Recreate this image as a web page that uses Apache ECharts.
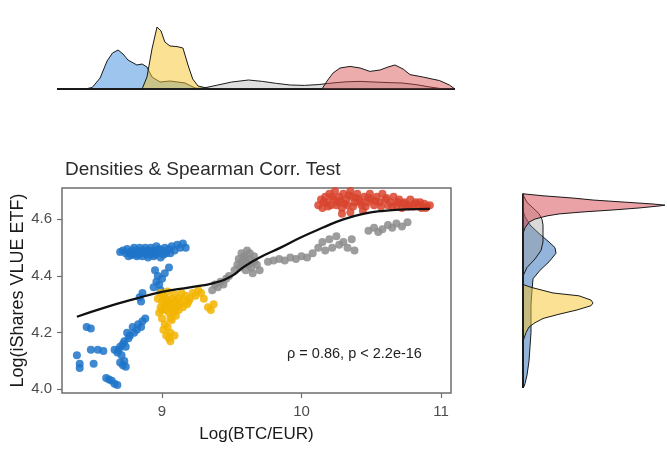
<!DOCTYPE html>
<html>
<head>
<meta charset="utf-8">
<script src="https://cdn.jsdelivr.net/npm/echarts@6/dist/echarts.min.js"></script>
<style>
  html, body { margin: 0; padding: 0; background: #ffffff; }
  #chart { width: 667px; height: 449px; }
</style>
</head>
<body>
<div id="chart"></div>
<script>
// ---- tick labels ----
const xTicks = [9, 10, 11];
const yTicks = [4.0, 4.2, 4.4, 4.6];

// ---- observations: [log(BTC/EUR), log(iShares VLUE ETF)] by period ----
const bluePts = [
  [8.70,4.485],[8.72,4.49],[8.74,4.48],[8.75,4.495],[8.77,4.485],[8.78,4.475],[8.79,4.49],[8.80,4.50],
  [8.81,4.48],[8.82,4.47],[8.83,4.49],[8.84,4.50],[8.85,4.485],[8.86,4.47],[8.87,4.49],[8.88,4.50],
  [8.89,4.48],[8.90,4.465],[8.91,4.49],[8.92,4.50],[8.93,4.485],[8.94,4.47],[8.95,4.49],[8.96,4.505],
  [8.97,4.48],[8.98,4.495],[8.99,4.465],[9.00,4.49],[9.02,4.50],[9.03,4.48],[9.05,4.495],[9.07,4.505],
  [9.09,4.49],[9.11,4.51],[9.13,4.50],[9.15,4.515],[9.17,4.50],
  [8.76,4.47],[8.79,4.475],[8.83,4.475],[8.87,4.48],[8.91,4.475],[8.95,4.475],[9.01,4.475],[9.06,4.48],
  [8.95,4.42],[8.97,4.40],[8.96,4.38],[8.98,4.37],[9.00,4.39],[8.99,4.35],[9.02,4.41],[9.05,4.43],[8.94,4.36],
  [8.84,4.325],[8.85,4.31],[8.86,4.34],
  [8.88,4.25],[8.86,4.24],[8.85,4.22],[8.83,4.23],[8.82,4.21],[8.80,4.20],[8.79,4.22],[8.77,4.19],
  [8.76,4.18],[8.75,4.20],[8.73,4.17],[8.72,4.16],[8.74,4.15],[8.70,4.15],[8.69,4.14],
  [8.66,4.14],[8.68,4.13],[8.71,4.12],[8.73,4.10],[8.72,4.085],[8.74,4.08],[8.70,4.095],
  [8.60,4.04],[8.62,4.035],[8.64,4.03],[8.66,4.02],[8.68,4.015],
  [8.46,4.22],[8.49,4.215],[8.49,4.14],[8.54,4.14],[8.58,4.135],[8.39,4.12],[8.41,4.09],[8.41,4.075],[8.51,4.09]
];
const yellowPts = [
  [8.97,4.32],[8.99,4.34],[9.00,4.31],[9.01,4.33],[9.02,4.30],[9.03,4.32],[9.04,4.345],[9.05,4.31],
  [9.06,4.29],[9.07,4.32],[9.08,4.30],[9.09,4.335],[9.10,4.31],[9.11,4.29],[9.12,4.32],[9.13,4.30],
  [9.14,4.34],[9.15,4.315],[9.17,4.33],[9.18,4.30],[9.20,4.32],[9.22,4.34],[9.24,4.33],[9.26,4.35],
  [9.28,4.34],[9.30,4.32],[9.33,4.29],[9.35,4.28],[9.37,4.30],
  [8.98,4.27],[9.00,4.25],[9.02,4.23],[9.01,4.21],[9.03,4.19],[9.05,4.18],[9.06,4.20],[9.04,4.22],
  [9.07,4.245],[9.08,4.27],[9.10,4.26],[9.12,4.28],[9.00,4.28],[8.99,4.29],[9.05,4.27],[9.06,4.17],[9.09,4.19],
  [9.03,4.28],[9.06,4.25],[9.09,4.28],[9.04,4.30],[9.15,4.29],[9.19,4.31]
];
const greyPts = [
  [9.36,4.35],[9.38,4.37],[9.40,4.36],[9.42,4.38],[9.44,4.37],[9.46,4.39],[9.48,4.40],
  [9.52,4.42],[9.54,4.44],[9.55,4.46],[9.56,4.43],[9.57,4.48],[9.58,4.45],[9.59,4.47],[9.60,4.42],
  [9.61,4.49],[9.62,4.44],[9.63,4.46],[9.64,4.43],[9.65,4.41],[9.66,4.47],[9.68,4.44],[9.70,4.42],
  [9.57,4.45],[9.60,4.46],[9.63,4.48],[9.66,4.45],
  [9.76,4.45],[9.80,4.455],[9.84,4.46],[9.88,4.455],[9.92,4.465],[9.96,4.46],[10.00,4.47],[10.04,4.465],[10.08,4.48],
  [10.12,4.50],[10.15,4.52],[10.17,4.49],[10.20,4.53],[10.22,4.50],[10.25,4.54],[10.27,4.51],[10.30,4.52],
  [10.33,4.50],[10.36,4.53],[10.38,4.49],
  [10.48,4.56],[10.52,4.57],[10.55,4.555],[10.58,4.565],[10.62,4.58],[10.65,4.57],[10.68,4.585],[10.72,4.575],[10.76,4.59]
];
const redPts = [
  [10.12,4.65],[10.14,4.67],[10.15,4.64],[10.17,4.68],[10.18,4.66],[10.20,4.69],[10.21,4.65],[10.23,4.67],
  [10.24,4.70],[10.26,4.66],[10.27,4.68],[10.29,4.64],[10.30,4.69],[10.32,4.67],[10.33,4.65],[10.35,4.70],
  [10.36,4.68],[10.38,4.66],[10.40,4.69],[10.41,4.67],[10.43,4.65],[10.45,4.68],[10.47,4.66],[10.49,4.69],
  [10.50,4.67],[10.52,4.65],[10.54,4.68],[10.56,4.66],[10.58,4.69],[10.60,4.67],[10.62,4.65],[10.64,4.66],
  [10.66,4.68],[10.68,4.65],[10.70,4.67],[10.72,4.64],[10.74,4.66],[10.76,4.65],[10.78,4.67],[10.80,4.645],
  [10.82,4.66],[10.84,4.65],[10.86,4.64],[10.88,4.655],[10.90,4.645],[10.92,4.65],[10.29,4.62],[10.35,4.625],[10.44,4.63],
  [10.16,4.66],[10.19,4.645],[10.22,4.68],[10.25,4.65],[10.28,4.665],[10.31,4.655],[10.34,4.685],[10.37,4.645],
  [10.39,4.675],[10.42,4.66],[10.46,4.645],[10.48,4.675],[10.53,4.665],[10.57,4.645],[10.61,4.675],[10.65,4.645],
  [10.69,4.66],[10.73,4.655],[10.77,4.645],[10.81,4.655],[10.85,4.66],[10.89,4.64]
];

// ---- smoothed fit through all observations ----
const loessFit = [
  [8.39,4.256],[8.6,4.29],[8.8,4.318],[9.0,4.344],[9.2,4.36],[9.37,4.375],[9.5,4.40],[9.58,4.43],
  [9.7,4.465],[9.85,4.50],[9.99,4.535],[10.15,4.57],[10.30,4.60],[10.45,4.62],[10.59,4.63],[10.75,4.635],[10.92,4.637]
];

// ---- marginal densities of log(BTC/EUR): [x, density] ----
const topDensBlue = [[8.247,0],[8.45,0],[8.50,0.08],[8.556,0.55],[8.606,1.4],[8.645,1.8],[8.685,1.95],[8.72,1.75],
  [8.756,1.45],[8.82,1.2],[8.857,1.25],[8.892,1.1],[8.928,0.6],[8.986,0.35],[9.057,0.4],[9.165,0.3],[9.237,0.05],[9.30,0],[11.10,0]];
const topDensYellow = [[8.247,0],[8.857,0],[8.892,0.6],[8.928,2.0],[8.964,3.1],[8.993,2.9],[9.02,2.35],[9.057,2.15],
  [9.108,2.12],[9.15,2.05],[9.186,1.2],[9.22,0.5],[9.258,0.15],[9.32,0.05],[9.366,0],[11.10,0]];
const topDensGrey = [[8.247,0],[9.2,0],[9.30,0.05],[9.40,0.2],[9.50,0.35],[9.62,0.45],[9.72,0.38],[9.82,0.28],
  [9.92,0.2],[10.02,0.18],[10.12,0.22],[10.22,0.3],[10.32,0.36],[10.42,0.38],[10.52,0.35],[10.62,0.32],
  [10.72,0.3],[10.82,0.22],[10.92,0.1],[11.0,0.02],[11.10,0]];
const topDensRed = [[8.247,0],[10.147,0],[10.183,0.4],[10.226,0.8],[10.276,1.05],[10.348,1.13],[10.42,1.05],
  [10.49,0.88],[10.563,0.95],[10.62,1.1],[10.67,1.2],[10.728,1.0],[10.778,0.72],[10.87,0.6],[10.99,0.42],[11.06,0.2],[11.10,0]];

// ---- marginal densities of log(iShares VLUE ETF): [y, density] ----
const rightDensBlue = [[4.005,0],[4.01,0.05],[4.02,0.1],[4.05,0.2],[4.10,0.3],[4.15,0.35],[4.20,0.4],[4.25,0.4],
  [4.30,0.4],[4.35,0.45],[4.39,0.5],[4.42,0.85],[4.45,1.3],[4.48,1.65],[4.50,1.6],[4.52,1.3],[4.55,0.8],
  [4.58,0.35],[4.61,0.1],[4.63,0],[4.69,0]];
const rightDensYellow = [[4.005,0],[4.17,0],[4.20,0.15],[4.22,0.3],[4.235,0.6],[4.25,1.0],[4.265,1.8],[4.28,2.7],
  [4.295,3.4],[4.305,3.5],[4.315,3.4],[4.33,2.8],[4.34,1.5],[4.36,0.4],[4.37,0],[4.69,0]];
const rightDensGrey = [[4.005,0],[4.40,0],[4.43,0.2],[4.46,0.6],[4.49,0.9],[4.52,1.0],[4.55,1.0],[4.58,1.0],
  [4.60,0.95],[4.62,0.8],[4.64,0.5],[4.66,0.2],[4.68,0.05],[4.69,0]];
const rightDensRed = [[4.005,0],[4.55,0],[4.57,0.1],[4.59,0.3],[4.601,0.6],[4.612,1.2],[4.619,1.8],[4.626,3.0],
  [4.633,4.5],[4.640,5.8],[4.647,6.8],[4.650,7.1],[4.654,6.5],[4.661,5.0],[4.668,3.5],[4.675,2.5],[4.683,1.0],[4.69,0]];

// ---- correlation annotation ----
const corrText = 'ρ = 0.86, p < 2.2e-16';
const corrAt = [10.38, 4.125];

const FONT = '"Liberation Sans", Arial, sans-serif';
const chart = echarts.init(document.getElementById('chart'), null, { renderer: 'canvas' });

// Filled density outline drawn as one polygon through the axis scales.
function densitySeries(points, gridIdx, vertical, fill) {
  return {
    type: 'custom',
    xAxisIndex: gridIdx,
    yAxisIndex: gridIdx,
    data: [0],
    silent: true,
    renderItem: function (params, api) {
      const pts = points.map(function (p) {
        return vertical ? api.coord([p[1], p[0]]) : api.coord([p[0], p[1]]);
      });
      return {
        type: 'polygon',
        shape: { points: pts },
        style: { fill: fill, stroke: '#1a1a1a', lineWidth: 1 }
      };
    }
  };
}

function pointSeries(data, color) {
  return {
    type: 'scatter',
    xAxisIndex: 0, yAxisIndex: 0,
    data: data,
    symbol: 'circle',
    symbolSize: 8,
    itemStyle: { color: color, opacity: 0.85 },
    silent: true
  };
}

const option = {
  animation: false,
  backgroundColor: '#ffffff',
  title: {
    text: 'Densities & Spearman Corr. Test',
    left: 60, top: 155,
    textStyle: { fontFamily: FONT, fontSize: 19, fontWeight: 'normal', color: '#2b2b2b' }
  },
  grid: [
    { left: 62, top: 188, width: 389, height: 205, show: true, borderColor: '#6e6e6e', borderWidth: 1.5,
      backgroundColor: '#ffffff', outerBoundsMode: 'none', containLabel: false },
    { left: 57, top: 19, width: 398, height: 70, show: false, outerBoundsMode: 'none', containLabel: false },
    { left: 523, top: 188, width: 144, height: 205, show: false, outerBoundsMode: 'none', containLabel: false }
  ],
  xAxis: [
    {
      type: 'value', gridIndex: 0, min: 8.2832, max: 11.0717,
      name: 'Log(BTC/EUR)', nameLocation: 'middle', nameGap: 33, nameMoveOverlap: false,
      nameTextStyle: { fontFamily: FONT, fontSize: 17, color: '#1a1a1a' },
      axisLine: { show: false },
      axisTick: { show: true, customValues: xTicks, length: 5, lineStyle: { color: '#6e6e6e', width: 1.2 } },
      axisLabel: { show: true, customValues: xTicks, margin: 11, fontFamily: FONT, fontSize: 15, color: '#4d4d4d' },
      splitLine: { show: false }
    },
    { type: 'value', gridIndex: 1, min: 8.247, max: 11.1004, show: false },
    { type: 'value', gridIndex: 2, min: 0, max: 7.2, show: false }
  ],
  yAxis: [
    {
      type: 'value', gridIndex: 0, min: 3.987, max: 4.7105,
      name: 'Log(iShares VLUE ETF)', nameLocation: 'middle', nameGap: 35, nameMoveOverlap: false,
      nameTextStyle: { fontFamily: FONT, fontSize: 18, color: '#1a1a1a' },
      axisLine: { show: false },
      axisTick: { show: true, customValues: yTicks, length: 5, lineStyle: { color: '#6e6e6e', width: 1.2 } },
      axisLabel: {
        show: true, customValues: yTicks, margin: 10, fontFamily: FONT, fontSize: 15, color: '#4d4d4d',
        formatter: function (v) { return v.toFixed(1); }
      },
      splitLine: { show: false }
    },
    { type: 'value', gridIndex: 1, min: 0, max: 3.5, show: false },
    { type: 'value', gridIndex: 2, min: 3.987, max: 4.7105, show: false }
  ],
  series: [
    pointSeries(bluePts, '#1f74c9'),
    pointSeries(yellowPts, '#f2b400'),
    pointSeries(greyPts, '#8c8c8c'),
    pointSeries(redPts, '#d8442e'),
    {
      type: 'line',
      xAxisIndex: 0, yAxisIndex: 0,
      data: loessFit,
      smooth: true,
      symbol: 'none',
      lineStyle: { color: '#111111', width: 2.3 },
      silent: true,
      markPoint: {
        symbol: 'rect', symbolSize: [1, 1],
        itemStyle: { color: 'rgba(0,0,0,0)' },
        label: { show: true, position: 'inside', formatter: corrText, fontFamily: FONT, fontSize: 14.5, color: '#222222' },
        data: [{ coord: corrAt }]
      }
    },
    densitySeries(topDensBlue, 1, false, 'rgba(60,140,220,0.5)'),
    densitySeries(topDensYellow, 1, false, 'rgba(245,195,40,0.5)'),
    densitySeries(topDensGrey, 1, false, 'rgba(150,150,150,0.3)'),
    densitySeries(topDensRed, 1, false, 'rgba(215,70,70,0.45)'),
    densitySeries(rightDensBlue, 2, true, 'rgba(60,120,190,0.55)'),
    densitySeries(rightDensYellow, 2, true, 'rgba(245,195,40,0.5)'),
    densitySeries(rightDensGrey, 2, true, 'rgba(150,150,150,0.35)'),
    densitySeries(rightDensRed, 2, true, 'rgba(215,70,80,0.5)')
  ]
};

chart.setOption(option);
</script>
</body>
</html>
